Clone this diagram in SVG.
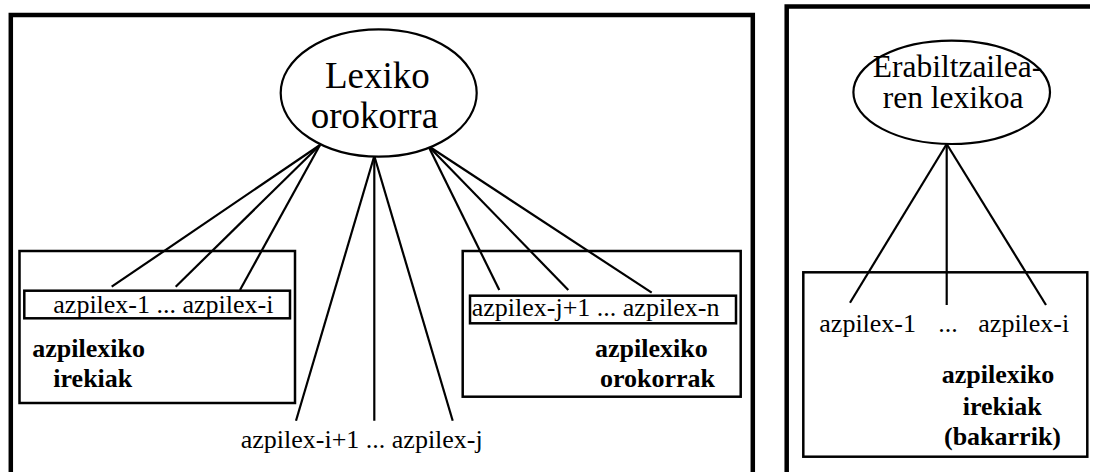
<svg xmlns="http://www.w3.org/2000/svg" width="1095" height="472" viewBox="0 0 1095 472">
  <style>
    .frame { fill: none; stroke: #000; stroke-width: 4.5; }
    .box { fill: none; stroke: #000; stroke-width: 2.5; }
    .node { fill: #fff; stroke: #000; stroke-width: 2.2; }
    .edge { stroke: #000; stroke-width: 2.2; fill: none; }
    text { font-family: "Liberation Serif", "Times New Roman", Times, serif; fill: #000; }
    .lbl { font-size: 26px; }
    .bold { font-size: 26px; font-weight: bold; }
  </style>
  <rect width="1095" height="472" fill="#fff"/>

  <!-- outer frames -->
  <g id="frames">
    <rect class="frame" x="10.8" y="15" width="742" height="500"/>
    <path class="frame" d="M786.7,480 V6.5 H1090"/>
  </g>

  <!-- connectors -->
  <g id="connectors">
    <line class="edge" x1="320" y1="145" x2="111.7" y2="286.7"/>
    <line class="edge" x1="320" y1="145" x2="175.7" y2="286.7"/>
    <line class="edge" x1="320" y1="145" x2="240" y2="290"/>
    <line class="edge" x1="374.3" y1="156" x2="296" y2="420.7"/>
    <line class="edge" x1="374.3" y1="156" x2="374.3" y2="420.7"/>
    <line class="edge" x1="374.3" y1="156" x2="452.7" y2="420.7"/>
    <line class="edge" x1="428.3" y1="146" x2="499.3" y2="290"/>
    <line class="edge" x1="428.3" y1="146" x2="568.3" y2="290"/>
    <line class="edge" x1="428.3" y1="146" x2="651.7" y2="292.7"/>
    <line class="edge" x1="946.7" y1="144" x2="850" y2="302.7"/>
    <line class="edge" x1="946.7" y1="144" x2="946.7" y2="305"/>
    <line class="edge" x1="946.7" y1="144" x2="1046" y2="305"/>
  </g>

  <!-- general lexicon -->
  <g id="lexiko-orokorra">
    <ellipse class="node" cx="378.7" cy="93" rx="98" ry="63.7"/>
    <text x="325" y="88.3" font-size="37">Lexiko</text>
    <text x="310.7" y="128.3" font-size="37">orokorra</text>
  </g>

  <!-- open sub-lexicons -->
  <g id="azpilexiko-irekiak">
    <rect class="box" x="19.5" y="251" width="275.5" height="152"/>
    <rect class="box" x="24.3" y="290.7" width="265.7" height="27.6"/>
    <text class="lbl" x="53.3" y="313">azpilex-1 ... azpilex-i</text>
    <text class="bold" x="32.3" y="356.7">azpilexiko</text>
    <text class="bold" x="53.3" y="387.3">irekiak</text>
  </g>

  <!-- intermediate sub-lexicons -->
  <g id="azpilex-tartekoak">
    <text class="lbl" x="240.7" y="448.3">azpilex-i+1 ... azpilex-j</text>
  </g>

  <!-- general sub-lexicons -->
  <g id="azpilexiko-orokorrak">
    <rect class="box" x="462.7" y="251" width="278" height="145.7"/>
    <rect class="box" x="470" y="295.7" width="266" height="27.6"/>
    <text class="lbl" x="471.7" y="316">azpilex-j+1 ... azpilex-n</text>
    <text class="bold" x="595" y="356.7">azpilexiko</text>
    <text class="bold" x="600" y="386.7">orokorrak</text>
  </g>

  <!-- user lexicon -->
  <g id="erabiltzailearen-lexikoa">
    <ellipse class="node" cx="951.7" cy="92.3" rx="98.3" ry="51.7"/>
    <text x="872.7" y="76.7" font-size="31.5">Erabiltzailea-</text>
    <text x="882.7" y="108.3" font-size="31.5">ren lexikoa</text>
  </g>

  <!-- user's open sub-lexicons -->
  <g id="azpilexiko-irekiak-bakarrik">
    <rect class="box" x="803.3" y="272.3" width="284" height="184.4"/>
    <text class="lbl" x="819.3" y="331.7">azpilex-1</text>
    <text class="lbl" x="938.3" y="331.7">...</text>
    <text class="lbl" x="978.3" y="331.7">azpilex-i</text>
    <text class="bold" x="941.7" y="383.3">azpilexiko</text>
    <text class="bold" x="962.7" y="415">irekiak</text>
    <text class="bold" x="944" y="445">(bakarrik)</text>
  </g>
</svg>
